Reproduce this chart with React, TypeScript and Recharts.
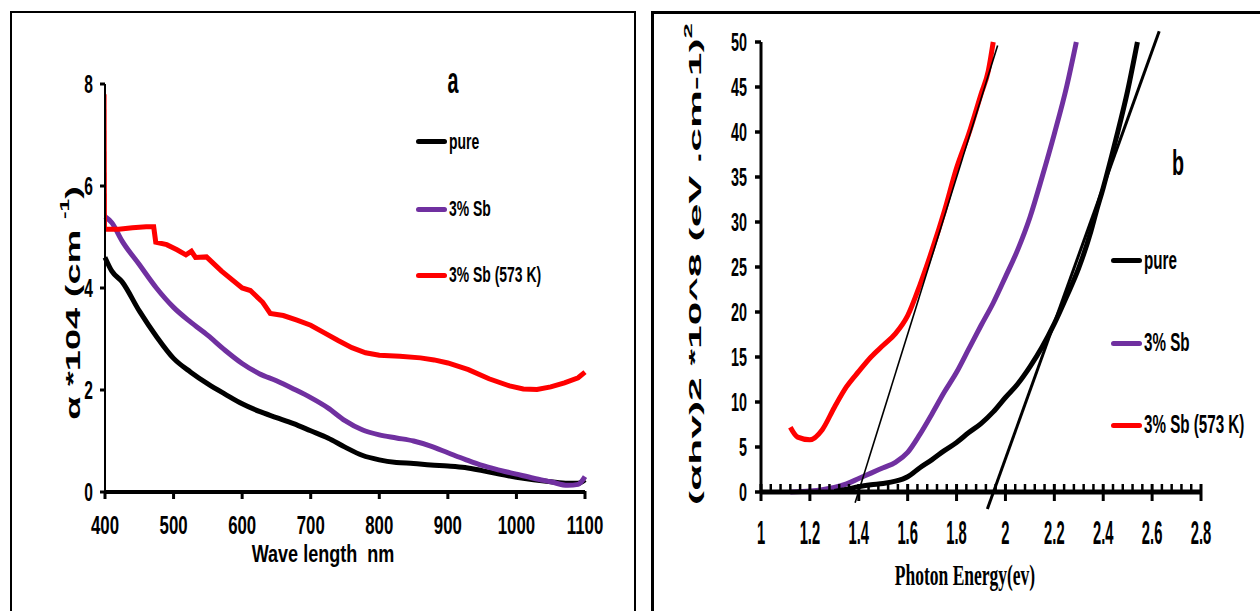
import React from "react";
import { LineChart, Line, XAxis, YAxis, Legend, ReferenceLine, Label } from "recharts";

// no Arial Narrow on the box, so squeeze Liberation Sans instead
const NARROW = "'Liberation Sans', Arial, sans-serif";
const SQ = 0.82;
const SANS = "'Liberation Sans', Arial, sans-serif";
const SERIF = "'Liberation Serif', 'Times New Roman', serif";

const seriesNames = ["pure", "3% Sb", "3% Sb (573 K)"];
const seriesColors = ["#000000", "#7030a0", "#ff0000"];

// (a) absorption coefficient vs wavelength
const waveA = [400, 410, 425, 450, 475, 500, 525, 550, 575, 600, 625, 650, 675, 700, 725, 750, 775, 800, 825, 850, 875, 900, 925, 950, 975, 1000, 1025, 1050, 1075, 1090, 1100];
const pureA = [4.6, 4.33, 4.12, 3.55, 3.05, 2.62, 2.35, 2.12, 1.92, 1.73, 1.58, 1.46, 1.34, 1.2, 1.06, 0.88, 0.72, 0.63, 0.58, 0.56, 0.53, 0.51, 0.48, 0.42, 0.35, 0.29, 0.24, 0.2, 0.17, 0.17, 0.24];
const sbA = [5.4, 5.28, 4.92, 4.46, 4.0, 3.62, 3.33, 3.07, 2.78, 2.52, 2.32, 2.18, 2.02, 1.85, 1.65, 1.4, 1.22, 1.12, 1.06, 1.0, 0.9, 0.77, 0.64, 0.52, 0.43, 0.35, 0.27, 0.2, 0.13, 0.15, 0.3];
const waveHotA = [400.6, 420, 440, 460, 471, 474, 490, 505, 518, 526, 532, 548, 570, 600, 612, 630, 636, 641, 660, 680, 700, 720, 740, 760, 780, 800, 830, 860, 880, 900, 930, 960, 990, 1010, 1030, 1050, 1070, 1090, 1100];
const sbHotA = [5.15, 5.15, 5.18, 5.2, 5.2, 4.9, 4.85, 4.75, 4.65, 4.72, 4.6, 4.61, 4.33, 4.0, 3.95, 3.72, 3.6, 3.5, 3.46, 3.37, 3.27, 3.12, 2.97, 2.83, 2.73, 2.68, 2.66, 2.63, 2.59, 2.53, 2.4, 2.22, 2.08, 2.02, 2.01, 2.06, 2.14, 2.24, 2.35];
const spikeWaveA = [400.8, 401.4];
const spikeA = [7.8, 5.15];
const waveTicks = [400, 500, 600, 700, 800, 900, 1000, 1100];
const alphaTicks = [0, 2, 4, 6, 8];

// (b) (alpha h nu)^2 vs photon energy
const energyPure = [1.3, 1.35, 1.4, 1.45, 1.5, 1.55, 1.6, 1.65, 1.7, 1.75, 1.8, 1.85, 1.9, 1.95, 2.0, 2.05, 2.1, 2.15, 2.2, 2.25, 2.3, 2.35, 2.37, 2.4, 2.45, 2.5, 2.54];
const tauPure = [0.05, 0.3, 0.6, 0.8, 0.95, 1.2, 1.7, 2.7, 3.6, 4.6, 5.5, 6.6, 7.6, 8.9, 10.5, 12, 13.9, 16.1, 18.7, 21.7, 24.9, 29, 31, 33.8, 39, 44.6, 50];
const energySb = [1.12, 1.2, 1.25, 1.3, 1.35, 1.4, 1.45, 1.5, 1.55, 1.6, 1.65, 1.7, 1.75, 1.8, 1.85, 1.9, 1.95, 2.0, 2.05, 2.1, 2.15, 2.2, 2.25, 2.29];
const tauSb = [0, 0.1, 0.25, 0.5, 0.9, 1.5, 2.1, 2.7, 3.3, 4.4, 6.4, 8.7, 11.1, 13.3, 15.9, 18.5, 21, 23.9, 26.9, 30.5, 35, 39.8, 45, 50];
const energyHot = [1.12, 1.15, 1.2, 1.25, 1.3, 1.35, 1.4, 1.45, 1.5, 1.55, 1.6, 1.65, 1.7, 1.75, 1.8, 1.85, 1.9, 1.93, 1.95];
const tauHot = [7.2, 6.1, 5.8, 6.9, 9.4, 11.7, 13.4, 15.0, 16.3, 17.6, 19.6, 23, 26.9, 31.2, 36, 39.8, 44.2, 46.8, 50];
const fitLowE = [1.385, 1.968];
const fitLowY = [-1.2, 49.6];
const fitHighE = [1.926, 2.629];
const fitHighY = [-1.9, 51.2];
const energyMajor = [1, 1.2, 1.4, 1.6, 1.8, 2, 2.2, 2.4, 2.6, 2.8];
const tauTicks = [0, 5, 10, 15, 20, 25, 30, 35, 40, 45, 50];

const pts = (xs: number[], ys: number[]) => xs.map((x, i) => ({ x, y: ys[i] }));
const seg = (xs: number[], ys: number[]) => [{ x: xs[0], y: ys[0] }, { x: xs[1], y: ys[1] }];

// excel default minor unit = major / 5
const energyTicks = energyMajor.flatMap((v, i) =>
  i < energyMajor.length - 1 ? [0, 1, 2, 3, 4].map((k) => +(v + k * 0.04).toFixed(2)) : [v]
);

// x axes are 1px tall, so tick y sits 1px under the axis line
function LeftXTick({ x, y, payload }: any) {
  const ay = y - 1;
  return (
    <g>
      <line x1={x} y1={ay} x2={x} y2={ay + 8} stroke="#000" strokeWidth={3} />
      <text transform={`translate(${x},${ay + 43}) scale(${SQ},1.3)`} textAnchor="middle" fontFamily={NARROW} fontWeight={700} fontSize={20.5} fill="#000">
        {payload.value}
      </text>
    </g>
  );
}

function LeftYTick({ x, y, payload }: any) {
  return (
    <g>
      <line x1={x - 5} y1={y} x2={x} y2={y} stroke="#000" strokeWidth={3} />
      <text transform={`translate(${x - 12},${y + 8.5}) scale(${SQ},1.32)`} textAnchor="end" fontFamily={NARROW} fontWeight={700} fontSize={19} fill="#000">
        {payload.value}
      </text>
    </g>
  );
}

function RightXTick({ x, y, payload }: any) {
  const ay = y - 1;
  const major = energyMajor.includes(payload.value);
  if (!major) return <line x1={x} y1={ay - 7} x2={x} y2={ay} stroke="#000" strokeWidth={2.5} />;
  return (
    <g>
      <line x1={x} y1={ay - 7} x2={x} y2={ay + 10} stroke="#000" strokeWidth={3} />
      <text transform={`translate(${x},${ay + 53}) scale(${SQ},1.85)`} textAnchor="middle" fontFamily={NARROW} fontWeight={700} fontSize={18} fill="#000">
        {String(Number(payload.value.toFixed(1)))}
      </text>
    </g>
  );
}

function RightYTick({ x, y, payload }: any) {
  return (
    <g>
      <line x1={x - 6} y1={y} x2={x} y2={y} stroke="#000" strokeWidth={3.5} />
      <text transform={`translate(${x - 14},${y + 9}) scale(${SQ},1.5)`} textAnchor="end" fontFamily={NARROW} fontWeight={700} fontSize={17.5} fill="#000">
        {payload.value}
      </text>
    </g>
  );
}

function legendBlock(rows: number[], fontSize: number, stretch: number) {
  return () => (
    <div style={{ position: "relative", width: 200, height: 10 }}>
      {seriesNames.map((name, i) => (
        <div key={name} style={{ position: "absolute", left: 0, top: rows[i], height: 0 }}>
          <div style={{ position: "absolute", left: 0, top: -2.5, width: 31, height: 5, borderRadius: 2.5, background: seriesColors[i] }} />
          <div
            style={{
              position: "absolute",
              left: 33,
              top: 0,
              transformOrigin: "left center",
              transform: `translateY(-50%) scale(${SQ},${stretch})`,
              fontFamily: NARROW,
              fontWeight: 700,
              fontSize,
              lineHeight: 1,
              whiteSpace: "nowrap",
              color: "#000",
            }}
          >
            {name}
          </div>
        </div>
      ))}
    </div>
  );
}

function PanelA() {
  return (
    <LineChart width={640} height={611} margin={{ top: 84, right: 55, bottom: 118, left: 104 }}>
      <XAxis
        type="number"
        dataKey="x"
        domain={[400, 1100]}
        ticks={waveTicks}
        interval={0}
        height={1}
        tickSize={0}
        tickMargin={0}
        tickLine={false}
        axisLine={{ stroke: "#000", strokeWidth: 4 }}
        tick={<LeftXTick />}
      >
        <Label
          content={() => (
            <text transform={`translate(323,562) scale(${SQ},1.12)`} textAnchor="middle" fontFamily={NARROW} fontWeight={700} fontSize={22} fill="#000">
              Wave length{"\u00a0\u00a0"}nm
            </text>
          )}
        />
      </XAxis>
      <YAxis
        type="number"
        domain={[0, 8]}
        ticks={alphaTicks}
        interval={0}
        width={1}
        tickSize={0}
        tickMargin={0}
        tickLine={false}
        axisLine={{ stroke: "#000", strokeWidth: 2 }}
        tick={<LeftYTick />}
      >
        <Label
          content={() => (
            <text transform="translate(73,303) rotate(-90) scale(1.9,1)" textAnchor="middle" dominantBaseline="central" fontFamily={SANS} fontWeight={700} fontSize={20} fill="#000">
              α{"\u00a0"}*104 (cm <tspan fontSize={12} dy={-8}>-1</tspan>
              <tspan dy={8}>)</tspan>
            </text>
          )}
        />
      </YAxis>
      <Legend
        layout="vertical"
        align="center"
        verticalAlign="middle"
        wrapperStyle={{ left: 416, top: 0, width: 220, height: 10 }}
        content={legendBlock([141.7, 209, 275], 17, 1.35)}
      />
      <Line data={pts(waveA, pureA)} dataKey="y" name={seriesNames[0]} type="monotone" stroke={seriesColors[0]} strokeWidth={5} dot={false} isAnimationActive={false} />
      <Line data={pts(waveA, sbA)} dataKey="y" name={seriesNames[1]} type="monotone" stroke={seriesColors[1]} strokeWidth={5} dot={false} isAnimationActive={false} />
      <Line data={pts(waveHotA, sbHotA)} dataKey="y" name={seriesNames[2]} type="linear" stroke={seriesColors[2]} strokeWidth={5} dot={false} isAnimationActive={false} />
      <Line data={pts(spikeWaveA, spikeA)} dataKey="y" type="linear" stroke={seriesColors[2]} strokeWidth={2} dot={false} legendType="none" isAnimationActive={false} />
    </LineChart>
  );
}

function PanelB() {
  return (
    <LineChart width={620} height={611} margin={{ top: 42, right: 59, bottom: 118, left: 120 }}>
      <XAxis
        type="number"
        dataKey="x"
        domain={[1, 2.8]}
        ticks={energyTicks}
        interval={0}
        height={1}
        tickSize={0}
        tickMargin={0}
        tickLine={false}
        axisLine={{ stroke: "#000", strokeWidth: 5 }}
        tick={<RightXTick />}
      >
        <Label
          content={() => (
            <text transform="translate(325,585) scale(1,1.7)" textAnchor="middle" fontFamily={SERIF} fontWeight={700} fontSize={17.5} fill="#000">
              Photon Energy(ev)
            </text>
          )}
        />
      </XAxis>
      <YAxis
        type="number"
        domain={[0, 50]}
        ticks={tauTicks}
        interval={0}
        width={1}
        tickSize={0}
        tickMargin={0}
        tickLine={false}
        axisLine={{ stroke: "#000", strokeWidth: 3 }}
        tick={<RightYTick />}
      >
        <Label
          content={() => (
            <text transform="translate(55,264) rotate(-90) scale(2.5,1)" textAnchor="middle" dominantBaseline="central" fontFamily={SANS} fontWeight={700} fontSize={17} fill="#000">
              (αhv)2 *10^8 (eV .cm-1)<tspan fontSize={11} dy={-7}>2</tspan>
            </text>
          )}
        />
      </YAxis>
      <Legend
        layout="vertical"
        align="center"
        verticalAlign="middle"
        wrapperStyle={{ left: 471, top: 0, width: 148, height: 10 }}
        content={legendBlock([260.7, 343, 425], 18.5, 1.4)}
      />
      <Line data={pts(energyHot, tauHot)} dataKey="y" name={seriesNames[2]} type="monotone" stroke={seriesColors[2]} strokeWidth={5} dot={false} isAnimationActive={false} />
      <Line data={pts(energySb, tauSb)} dataKey="y" name={seriesNames[1]} type="monotone" stroke={seriesColors[1]} strokeWidth={5} dot={false} isAnimationActive={false} />
      <Line data={pts(energyPure, tauPure)} dataKey="y" name={seriesNames[0]} type="monotone" stroke={seriesColors[0]} strokeWidth={5} dot={false} isAnimationActive={false} />
      <ReferenceLine segment={seg(fitLowE, fitLowY)} ifOverflow="visible" stroke="#000" strokeWidth={1.6} />
      <ReferenceLine segment={seg(fitHighE, fitHighY)} ifOverflow="visible" stroke="#000" strokeWidth={3} />
    </LineChart>
  );
}

export default function App() {
  return (
    <div style={{ position: "absolute", left: 0, top: 0, width: 1260, height: 611, overflow: "hidden", background: "#fff" }}>
      <div style={{ position: "absolute", left: 10, top: 11, width: 626, height: 640, border: "2px solid #000", boxSizing: "border-box" }} />
      <div style={{ position: "absolute", left: 651, top: 11, width: 640, height: 640, border: "3px solid #000", boxSizing: "border-box" }} />
      <div style={{ position: "absolute", left: 0, top: 0 }}>
        <PanelA />
      </div>
      <div style={{ position: "absolute", left: 640, top: 0 }}>
        <PanelB />
      </div>
      <svg width={1260} height={611} style={{ position: "absolute", left: 0, top: 0, pointerEvents: "none" }}>
        <text transform={`translate(453,93) scale(${SQ},1.55)`} textAnchor="middle" fontFamily={NARROW} fontWeight={700} fontSize={24} fill="#000">
          a
        </text>
        <text transform={`translate(1178,175) scale(${SQ},1.45)`} textAnchor="middle" fontFamily={NARROW} fontWeight={700} fontSize={24} fill="#000">
          b
        </text>
      </svg>
    </div>
  );
}
